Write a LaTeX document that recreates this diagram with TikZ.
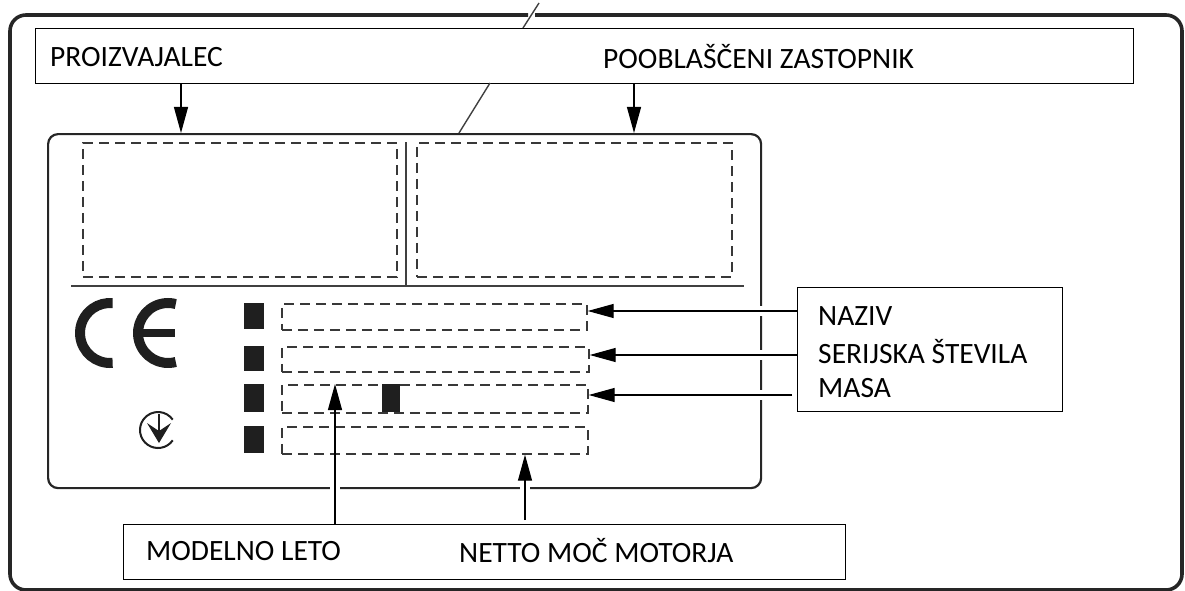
\documentclass[tikz,border=0pt]{standalone}
\usepackage{fontspec}
\setmainfont{Carlito}
\usetikzlibrary{arrows.meta}
\begin{document}
\begin{tikzpicture}[x=1pt,y=-1pt,
  frame/.style={draw=black!85, line width=3.6pt},
  panel/.style={draw=black!85, line width=2.2pt, rounded corners=10pt},
  thinl/.style={draw=black!75, line width=1.4pt},
  dbox/.style={draw=black!78, line width=1.7pt, dash pattern=on 10pt off 6pt, anchor=north west, inner sep=0pt},
  lbl/.style={draw=black, line width=1.2pt, fill=white, anchor=north west, inner sep=0pt},
  arr/.style={draw=black, line width=1.2pt, -{Triangle[length=26pt,width=14pt]}},
  blk/.style={fill=black!88},
  txt/.style={font=\fontsize{29.5}{36}\selectfont, inner sep=0pt, anchor=west},
  gap/.style={fill=white}
]
\useasboundingbox (0,0) rectangle (1185,591);
% outer frame with break
\draw[frame, rounded corners=16pt] (528,15) -- (10,15) -- (10,590) -- (1182,590) -- (1182,15) -- (535,15);
\draw[draw=black!85, line width=4.6pt] (26,15) -- (528,15);
\draw[draw=black!85, line width=4.6pt] (535,15) -- (1166,15);
\draw[thinl] (523,28) -- (539,3);
% top label box
\node[lbl, minimum width=1098pt, minimum height=55pt] (topbox) at (35,28) {};
\node[txt] (proiz) at (50,57) {PROIZVAJALEC};
\node[txt] (poobl) at (603,57) {POOBLAŠČENI ZASTOPNIK};
% plate
\node[panel, anchor=north west, minimum width=713pt, minimum height=354pt, inner sep=0pt] (plate) at (47,133) {};
\draw[thinl] (490,83) -- (459,133);
% upper dashed fields
\node[dbox, minimum width=314pt, minimum height=134pt] (f1) at (82,142) {};
\node[dbox, minimum width=315pt, minimum height=134pt] (f2) at (416,142) {};
\draw[thinl] (406,142) -- (406,286);
\draw[thinl] (71,286) -- (744,286);
% rows
\node[dbox, minimum width=305pt, minimum height=26pt] (r1) at (281,303) {};
\node[dbox, minimum width=307pt, minimum height=25pt] (r2) at (281,346) {};
\node[dbox, minimum width=306pt, minimum height=28pt] (r3) at (281,384) {};
\node[dbox, minimum width=306pt, minimum height=27pt] (r4) at (281,426) {};
\fill[blk] (244,303) rectangle (264,329);
\fill[blk] (244,346) rectangle (264,371);
\fill[blk] (244,384) rectangle (264,412);
\fill[blk] (244,426) rectangle (264,453);
\fill[blk] (382,384) rectangle (400,412);
% CE mark
\draw[black!88, line width=10pt] (110,333) ++(85:30) arc[start angle=85, end angle=275, radius=30];
\draw[black!88, line width=10pt] (168,333) ++(75:30) arc[start angle=75, end angle=285, radius=30];
\draw[black!88, line width=8pt] (143,333) -- (175,333);
% conformity mark
\draw[black!88, line width=2pt] (158,430) ++(35:18) arc[start angle=35, end angle=325, radius=18];
\fill[black!88] (147,423) -- (159,443) -- (171,423) -- (159,431) -- cycle;
\draw[black!88, line width=1.8pt] (159,414) -- (159,440);
% right label box
\node[lbl, minimum width=265pt, minimum height=124pt] (rbox) at (797,287) {};
\node[txt] (naziv) at (818,316) {NAZIV};
\node[txt] (ser) at (818,352) {SERIJSKA ŠTEVILA};
\node[txt] (masa) at (818,388) {MASA};
% bottom label box
\node[lbl, minimum width=722pt, minimum height=55pt] (bbox) at (123,524) {};
\node[txt] (model) at (146,551) {MODELNO LETO};
\node[txt] (netto) at (459,551) {NETTO MOČ MOTORJA};
% gaps where arrows cross the plate outline
\fill[gap] (755,306) rectangle (765,316);
\fill[gap] (755,350) rectangle (765,360);
\fill[gap] (755,390) rectangle (765,400);
\fill[gap] (330,482) rectangle (340,492);
\fill[gap] (520,482) rectangle (530,492);
% arrows
\coordinate (ax1) at (181,0);
\coordinate (ax2) at (634,0);
\coordinate (ax3) at (335,0);
\coordinate (ax4) at (525,0);
\draw[arr] (ax1 |- topbox.south) -- (ax1 |- plate.north);
\draw[arr] (ax2 |- topbox.south) -- (ax2 |- plate.north);
\draw[arr] (rbox.west |- 0,311) -- (r1.east |- 0,311);
\draw[arr] (rbox.west |- 0,355) -- (r2.east |- 0,355);
\draw[arr] ([xshift=-5pt]rbox.west |- 0,395) -- (r3.east |- 0,395);
\draw[arr] (ax3 |- bbox.north) -- (ax3 |- r3.north);
\draw[arr] ([yshift=4pt]ax4 |- bbox.north) -- (ax4 |- r4.south);
\end{tikzpicture}
\end{document}
